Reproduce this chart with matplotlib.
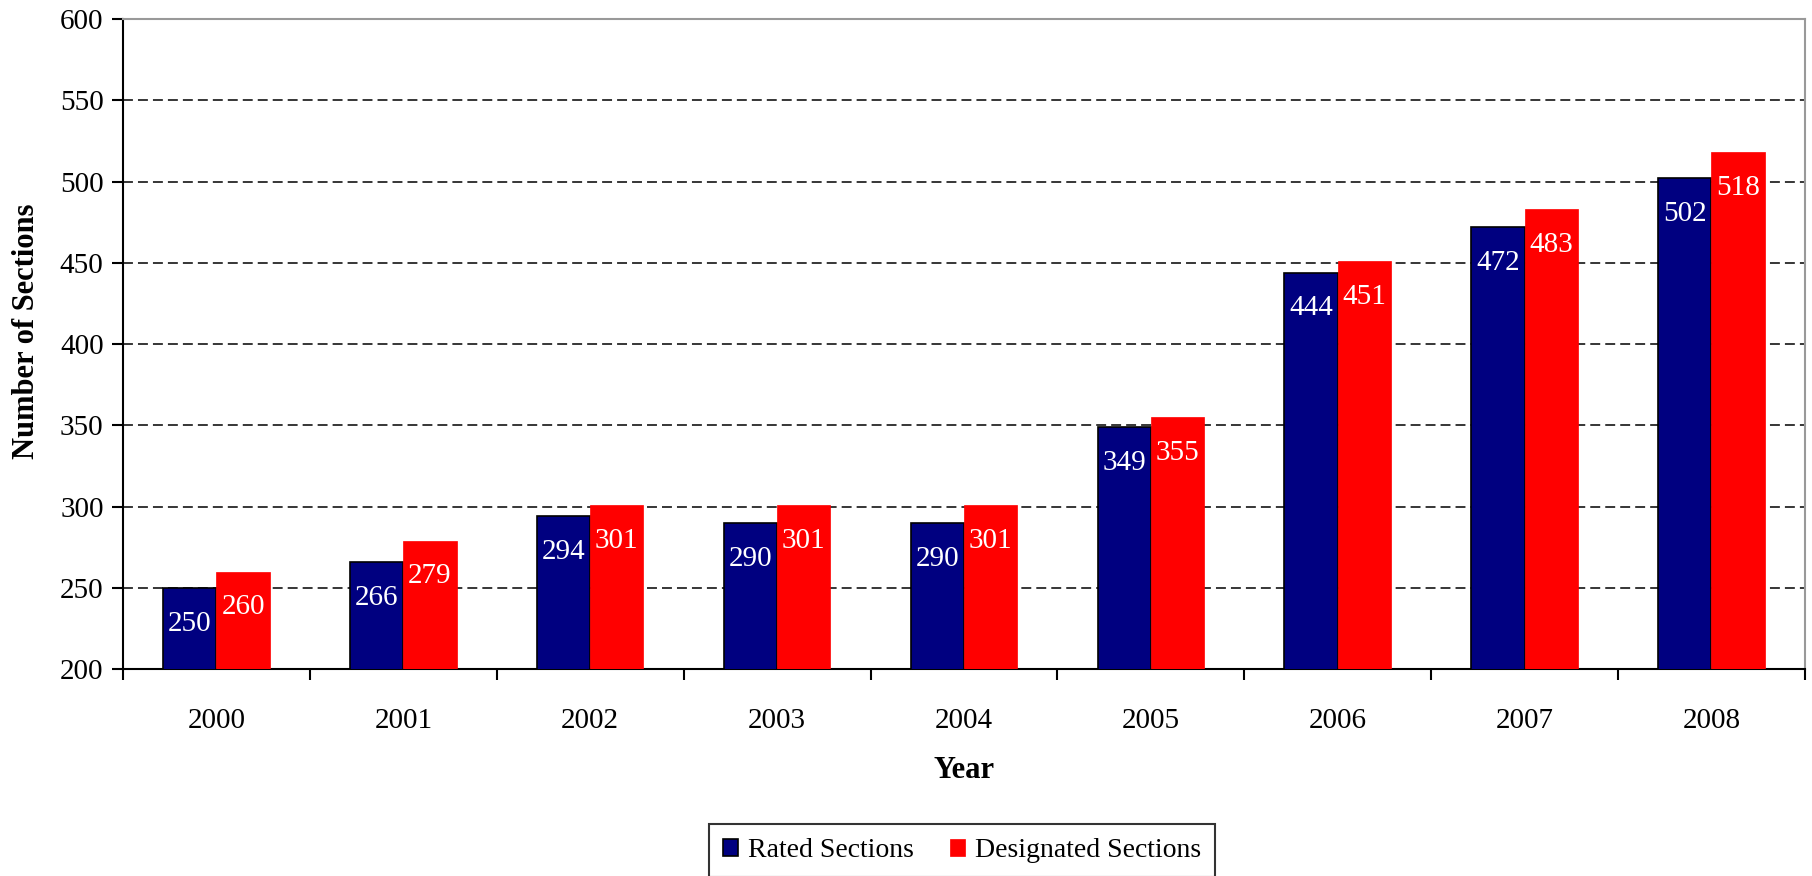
import numpy as np
import matplotlib
matplotlib.use("Agg")
import matplotlib.pyplot as plt

years = ["2000", "2001", "2002", "2003", "2004", "2005", "2006", "2007", "2008"]
rated = [250, 266, 294, 290, 290, 349, 444, 472, 502]
designated = [260, 279, 301, 301, 301, 355, 451, 483, 518]

plt.rcParams["font.family"] = ["Liberation Serif", "DejaVu Serif"]

fig = plt.figure(figsize=(18.12, 8.76), dpi=100)
ax = fig.add_axes([0.0679, 0.2363, 0.9282, 0.742])

x = np.arange(len(years))
w = 0.285

b1 = ax.bar(x - w / 2, rated, w, color="#000080", edgecolor="black",
            linewidth=1.2, label="Rated Sections", zorder=3)
b2 = ax.bar(x + w / 2, designated, w, color="#FF0000", edgecolor="#FF0000",
            linewidth=0.5, label="Designated Sections", zorder=3)

# value labels inside the top of each bar
for bars, vals in [(b1, rated), (b2, designated)]:
    for rect, v in zip(bars, vals):
        ax.text(rect.get_x() + rect.get_width() / 2, v - 22, str(v),
                ha="center", va="center", color="white", fontsize=21, zorder=4)

ax.set_ylim(200, 600)
ax.set_xlim(-0.5, len(years) - 0.5)
ax.set_yticks(np.arange(200, 601, 50))
ax.yaxis.grid(True, linestyle=(0, (6.5, 3.3)), color="black", linewidth=1.1, zorder=0)
ax.set_axisbelow(True)

# category labels between boundary ticks
ax.set_xticks(x)
ax.set_xticklabels(years)
ax.tick_params(axis="x", which="major", length=0, pad=28, labelsize=21)
ax.set_xticks(np.arange(-0.5, len(years), 1), minor=True)
ax.tick_params(axis="x", which="minor", length=8, width=1.5, direction="out")
ax.tick_params(axis="y", length=8, width=1.5, labelsize=21, pad=6)

for s in ["left", "bottom"]:
    ax.spines[s].set_linewidth(1.5)
    ax.spines[s].set_color("black")
for s in ["top", "right"]:
    ax.spines[s].set_linewidth(1.5)
    ax.spines[s].set_color("#999999")

ax.set_xlabel("Year", fontsize=22, fontweight="bold", labelpad=16)
ax.set_ylabel("Number of Sections", fontsize=22, fontweight="bold")
ax.yaxis.set_label_coords(-0.049, 0.52)

leg = fig.legend(handles=[b1, b2], loc="center", bbox_to_anchor=(0.531, 0.029),
                 ncol=2, fontsize=20, frameon=True, fancybox=False,
                 edgecolor="black", handlelength=0.55, handleheight=0.55,
                 handletextpad=0.35, columnspacing=1.3, borderpad=0.5)
leg.get_frame().set_linewidth(1.5)

fig.savefig("out.png", dpi=100)
